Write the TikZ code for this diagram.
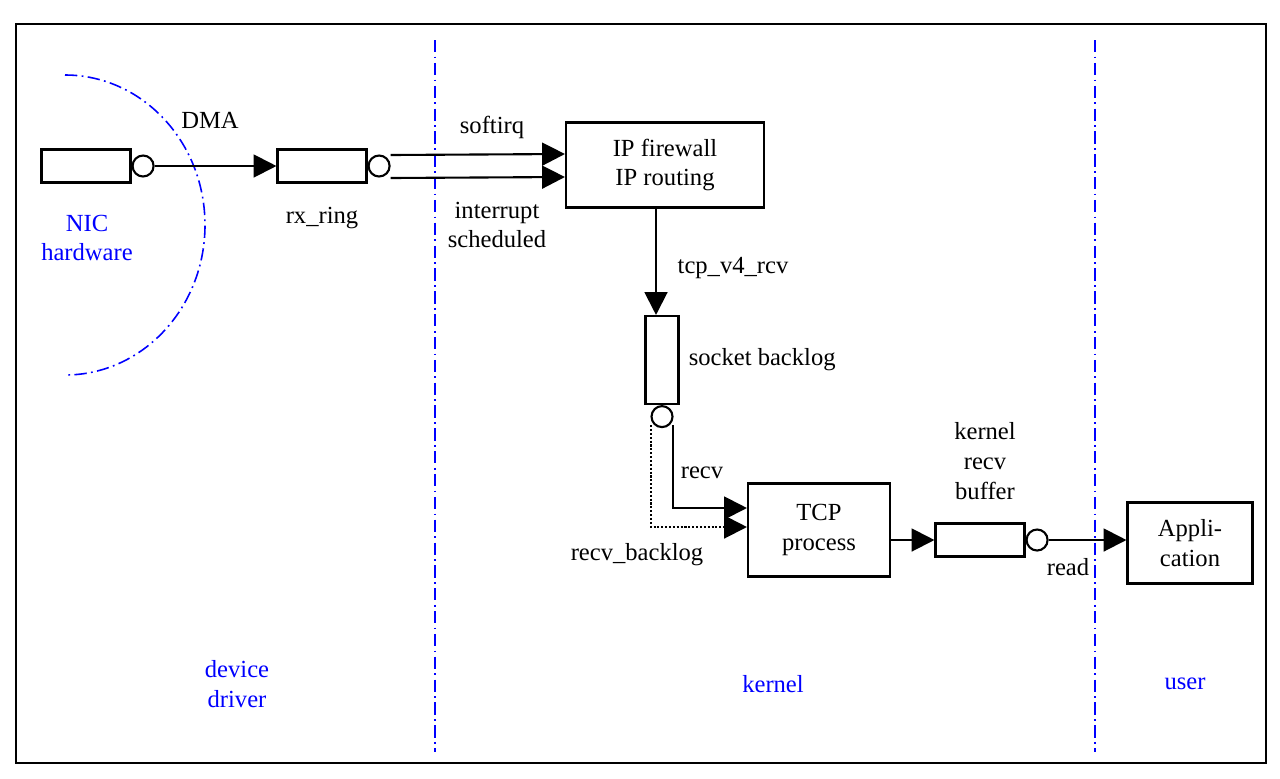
\documentclass[tikz,border=0pt]{standalone}
\usepackage{fontspec}
\setmainfont{Liberation Serif}
\usetikzlibrary{arrows.meta,% large filled arrow tips
positioning,%              relative placement of nodes
calc}
\tikzset{every node/.style={font=\fontsize{14}{17}\selectfont}}
\tikzset{
  box/.style={draw,line width=1.2pt,align=center,inner sep=0pt},
  queue/.style={draw,line width=1.2pt,minimum width=1.78cm,minimum height=0.66cm,inner sep=0pt},
  knob/.style={draw,line width=1.2pt,circle,minimum size=0.42cm,inner sep=0pt},
  flow/.style={line width=1.2pt,-{Triangle[length=13pt,width=13pt]}},
  zone/.style={blue,line width=0.9pt,dash pattern=on 7pt off 2.5pt on 1pt off 2.5pt},
  zonetext/.style={blue,align=center}
}

\begin{document}
\begin{tikzpicture}[x=0.02cm,y=-0.02cm]
    \useasboundingbox (0,0) rectangle (1280,778);
    \draw[line width=1.2pt] (16,24) rectangle (1266,763);
    % zones
    \draw[zone] (65,75) arc[start angle=-90,end angle=90,x radius=140,y radius=150];
    \draw[zone] (435,40) -- (435,752);
    \draw[zone] (1095,40) -- (1095,752);
    \node[zonetext] (nic) at (87,238) {NIC\\hardware};
    \node[zonetext] (driver) at (237,684) {device\\driver};
    \node[zonetext] (kernel) at (773,684) {kernel};
    \node[zonetext] (user) at (1185,684) {user};
    % queues
    \node[queue] (nicq) at (86,166) {};
    \node[knob, right=0pt of nicq] (nicc) {};
    \node[queue] (ringq) at (322,166) {};
    \node[knob, right=0pt of ringq] (ringc) {};
    \node[draw,line width=1.2pt,minimum width=0.66cm,minimum height=1.76cm,inner sep=0pt] (sockq) at (662,360) {};
    \node[knob, below=0pt of sockq] (sockc) {};
    \node[queue] (kbufq) at (980,540) {};
    \node[knob, right=0pt of kbufq] (kbufc) {};
    % boxes
    \node[box,minimum width=3.96cm,minimum height=1.7cm] (ip) at (665,165) {IP firewall\\IP routing};
    \node[box,minimum width=2.84cm,minimum height=1.86cm] (tcp) at (819,530) {TCP\\process};
    \node[box,minimum width=2.5cm,minimum height=1.62cm] (app) at (1190,543) {Appli-\\cation};
    % labels
    \node (dma) at (210,120) {DMA};
    \node (ring) at (322,218) {rx\_ring};
    \node (softirq) at (492,127) {softirq};
    \node[align=center] (intr) at (497,225) {interrupt\\scheduled};
    \node (v4) at (733,268) {tcp\_v4\_rcv};
    \node[right=0.06cm of sockq] (sock) {socket backlog};
    \node (recv) at (702,473) {recv};
    \node (rbl) at (637,555) {recv\_backlog};
    \node[align=center] (kbuf) at (985,461) {kernel\\recv\\buffer};
    \node (read) at (1068,567) {read};
    % connectors
    \draw[flow] (nicc) -- (ringq);
    \draw[flow] ($(ringc.east)+(0,-11)$) -- ($(ip.west)+(0,-11)$);
    \draw[flow] ($(ringc.east)+(0,12)$) -- ($(ip.west)+(0,12)$);
    \draw[flow] ($(ip.south -| sockq.north)+(-6,0)$) -- ($(sockq.north)+(-6,0)$);
    \draw[flow] ($(sockc.south)+(11,-3)$) |- ($(tcp.west)+(0,-22)$);
    \draw[flow,densely dotted] ($(sockc.south)+(-11,-3)$) |- ($(tcp.west)+(0,-3)$);
    \draw[flow] (tcp.east |- kbufq.west) -- (kbufq.west);
    \draw[flow] (kbufc) -- (app.west |- kbufc);
\end{tikzpicture}
\end{document}
